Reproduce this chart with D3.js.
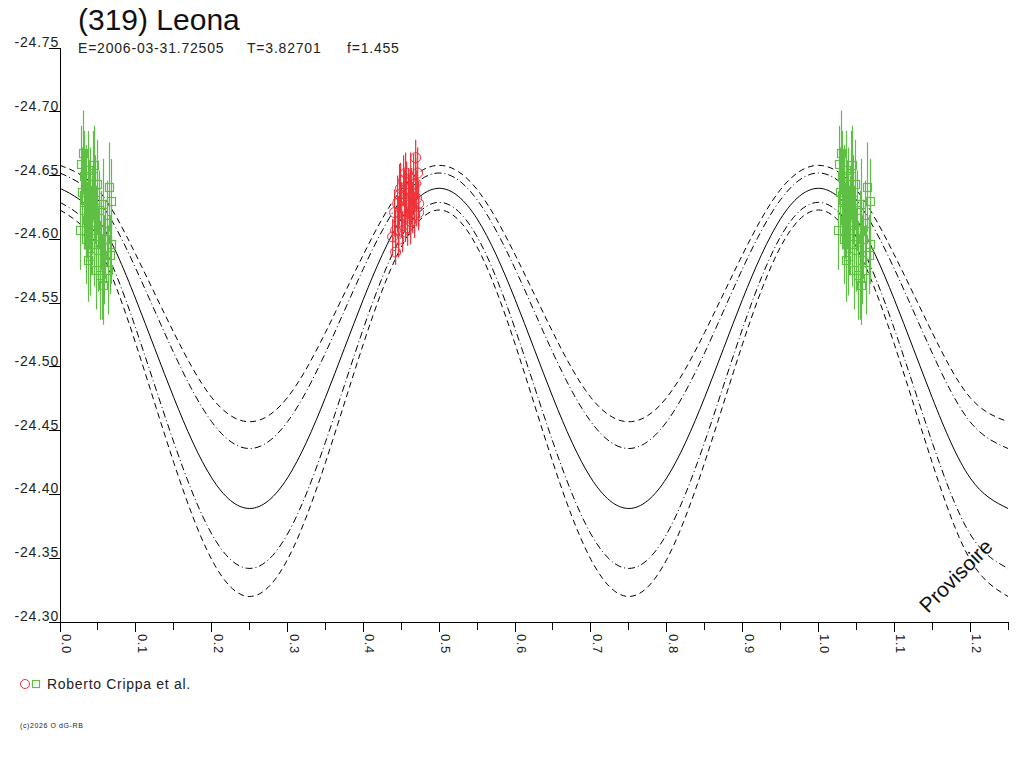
<!DOCTYPE html>
<html>
<head>
<meta charset="utf-8">
<script src="https://cdn.jsdelivr.net/npm/d3@7"></script>
<style>
  html, body { margin: 0; padding: 0; background: #fff; }
  svg { display: block; font-family: "Liberation Sans", Arial, sans-serif; }
</style>
</head>
<body>
<div id="chart"></div>
<script>
// phase grid for the model curves (read every 0.05)
const curvePhase = [0.00,0.05,0.10,0.15,0.20,0.25,0.30,0.35,0.40,0.45,0.50,0.55,0.60,0.65,0.70,0.75,0.80,0.85,0.90,0.95,1.00,1.05,1.10,1.15,1.20,1.25];
const fitMag = [-24.640,-24.616,-24.553,-24.476,-24.413,-24.389,-24.413,-24.476,-24.553,-24.616,
                -24.640,-24.616,-24.553,-24.476,-24.413,-24.389,-24.413,-24.476,-24.553,-24.616,
                -24.640,-24.616,-24.553,-24.476,-24.413,-24.389];
const upperDashMag = [-24.658,-24.639,-24.588,-24.527,-24.476,-24.457,-24.476,-24.527,-24.588,-24.639,
                      -24.658,-24.639,-24.588,-24.527,-24.476,-24.457,-24.476,-24.527,-24.588,-24.639,
                      -24.658,-24.639,-24.588,-24.527,-24.476,-24.457];
const upperDotMag = [-24.652,-24.631,-24.577,-24.511,-24.457,-24.436,-24.457,-24.511,-24.577,-24.631,
                     -24.652,-24.631,-24.577,-24.511,-24.457,-24.436,-24.457,-24.511,-24.577,-24.631,
                     -24.652,-24.631,-24.577,-24.511,-24.457,-24.436];
const lowerDotMag = [-24.629,-24.602,-24.530,-24.441,-24.369,-24.342,-24.369,-24.441,-24.530,-24.602,
                     -24.629,-24.602,-24.530,-24.441,-24.369,-24.342,-24.369,-24.441,-24.530,-24.602,
                     -24.629,-24.602,-24.530,-24.441,-24.369,-24.342];
const lowerDashMag = [-24.623,-24.594,-24.518,-24.425,-24.349,-24.320,-24.349,-24.425,-24.518,-24.594,
                      -24.623,-24.594,-24.518,-24.425,-24.349,-24.320,-24.349,-24.425,-24.518,-24.594,
                      -24.623,-24.594,-24.518,-24.425,-24.349,-24.320];

// session 1 (green squares)
const greenPhase = [0.0264,0.0277,0.0291,0.0304,0.0317,0.0317,0.0330,0.0343,0.0343,0.0357,
                    0.0370,0.0370,0.0383,0.0396,0.0396,0.0410,0.0423,0.0436,0.0449,0.0449,
                    0.0462,0.0476,0.0476,0.0489,0.0502,0.0515,0.0528,0.0542,0.0555,0.0568,
                    0.0568,0.0581,0.0594,0.0621,0.0634,0.0647,0.0661,0.0674,0.0674];
const greenMag = [-24.607,-24.659,-24.637,-24.668,-24.650,-24.623,-24.631,-24.643,-24.600,-24.615,
                  -24.654,-24.584,-24.627,-24.587,-24.639,-24.607,-24.619,-24.650,-24.658,-24.596,
                  -24.631,-24.576,-24.611,-24.643,-24.592,-24.623,-24.572,-24.607,-24.570,-24.628,
                  -24.564,-24.584,-24.600,-24.613,-24.576,-24.641,-24.588,-24.630,-24.596];
const greenErr = [0.031,0.030,0.035,0.033,0.035,0.031,0.039,0.031,0.035,0.030,
                  0.031,0.033,0.035,0.031,0.033,0.035,0.031,0.035,0.031,0.033,
                  0.035,0.031,0.031,0.035,0.033,0.031,0.035,0.031,0.033,0.035,
                  0.031,0.035,0.031,0.033,0.035,0.035,0.031,0.033,0.031];

// session 2 (red circles)
const redPhase = [0.4386,0.4412,0.4425,0.4425,0.4452,0.4465,0.4465,0.4478,0.4491,0.4505,
                  0.4518,0.4531,0.4544,0.4557,0.4557,0.4571,0.4584,0.4597,0.4610,0.4624,
                  0.4624,0.4637,0.4650,0.4663,0.4676,0.4690,0.4690,0.4703,0.4716,0.4729,0.4729];
const redMag = [-24.602,-24.621,-24.607,-24.590,-24.628,-24.614,-24.600,-24.635,-24.640,-24.623,
                -24.606,-24.646,-24.631,-24.652,-24.618,-24.639,-24.609,-24.636,-24.627,-24.614,
                -24.648,-24.634,-24.625,-24.643,-24.619,-24.664,-24.644,-24.632,-24.652,-24.628,-24.621];
const redErr = [0.014,0.018,0.016,0.010,0.022,0.020,0.014,0.024,0.020,0.022,
                0.016,0.020,0.024,0.016,0.020,0.022,0.014,0.020,0.024,0.018,
                0.020,0.022,0.020,0.024,0.018,0.014,0.020,0.022,0.020,0.018,0.014];

const yTicks = [-24.75,-24.70,-24.65,-24.60,-24.55,-24.50,-24.45,-24.40,-24.35,-24.30];
const xTicks = [0.0,0.1,0.2,0.3,0.4,0.5,0.6,0.7,0.8,0.9,1.0,1.1,1.2];

const W = 1024, H = 768;
const plotLeft = 60, plotRight = 1008, plotTop = 48, plotBottom = 622;
const greenCol = "#5fbf45", redCol = "#ef3038";

const x = d3.scaleLinear().domain([0, 1.25]).range([plotLeft, plotRight]);
const y = d3.scaleLinear().domain([-24.75, -24.30]).range([plotTop, plotBottom]);

const svg = d3.select("#chart").append("svg")
    .attr("width", W).attr("height", H)
    .attr("viewBox", `0 0 ${W} ${H}`);
svg.append("rect").attr("width", W).attr("height", H).attr("fill", "#fff");

svg.append("clipPath").attr("id", "plot")
  .append("rect").attr("x", plotLeft).attr("y", plotTop - 10)
    .attr("width", plotRight - plotLeft).attr("height", plotBottom - plotTop + 10);

// title
svg.append("text").attr("x", 78).attr("y", 30)
    .style("font-size", "30px").attr("fill", "#111").text("(319) Leona");
const sub = svg.append("g").style("font-size", "14px").style("letter-spacing", "0.8px").attr("fill", "#222");
sub.append("text").attr("x", 78).attr("y", 53).text("E=2006-03-31.72505");
sub.append("text").attr("x", 247).attr("y", 53).text("T=3.82701");
sub.append("text").attr("x", 347).attr("y", 53).text("f=1.455");

// axes
const ax = svg.append("g").attr("stroke", "#000").attr("shape-rendering", "crispEdges");
ax.append("line").attr("x1", plotLeft).attr("x2", plotLeft).attr("y1", y(-24.75)).attr("y2", plotBottom);
ax.append("line").attr("x1", plotLeft).attr("x2", plotRight).attr("y1", plotBottom).attr("y2", plotBottom);

ax.selectAll(".yt").data(yTicks).join("line")
    .attr("x1", plotLeft - 11).attr("x2", plotLeft).attr("y1", d => y(d)).attr("y2", d => y(d));
svg.selectAll(".yl").data(yTicks).join("text")
    .attr("x", plotLeft - 1).attr("y", d => y(d) - 1)
    .attr("text-anchor", "end").style("font-size", "14px").style("letter-spacing", "0.8px")
    .attr("fill", "#222")
    .text(d => d.toFixed(2));

const minor = d3.range(0, 25).map(i => i * 0.05 + 0.05);
ax.selectAll(".xm").data(minor).join("line")
    .attr("x1", d => x(d)).attr("x2", d => x(d))
    .attr("y1", plotBottom).attr("y2", d => Math.round(d * 20) % 2 === 0 ? plotBottom + 10 : plotBottom + 8);
ax.append("line").attr("x1", x(0)).attr("x2", x(0)).attr("y1", plotBottom).attr("y2", plotBottom + 10);

svg.selectAll(".xl").data(xTicks).join("text")
    .attr("transform", d => `translate(${x(d) + 2},${plotBottom + 12}) rotate(90)`)
    .style("font-size", "13px").style("letter-spacing", "0.6px").attr("fill", "#222")
    .text(d => d.toFixed(1));

// model curves
const line = d3.line().x((d, i) => x(curvePhase[i])).y(d => y(d)).curve(d3.curveNatural);
const curves = [
  { mag: upperDashMag, dash: "6,4" },
  { mag: lowerDashMag, dash: "6,4" },
  { mag: upperDotMag, dash: "7,3,1,3" },
  { mag: lowerDotMag, dash: "7,3,1,3" },
  { mag: fitMag, dash: null }
];
const cg = svg.append("g").attr("clip-path", "url(#plot)");
cg.selectAll("path").data(curves).join("path")
    .attr("d", d => line(d.mag))
    .attr("fill", "none").attr("stroke", "#000").attr("stroke-width", 1)
    .attr("stroke-dasharray", d => d.dash);

// observations, folded onto the phase range
const greenPts = [];
greenPhase.forEach((p, i) => {
  greenPts.push({ p: p, m: greenMag[i], e: greenErr[i] });
  if (p + 1 <= 1.25) greenPts.push({ p: p + 1, m: greenMag[i], e: greenErr[i] });
});
const redPts = redPhase.map((p, i) => ({ p: p, m: redMag[i], e: redErr[i] }));

const pg = svg.append("g").attr("clip-path", "url(#plot)");
pg.selectAll(".gb").data(greenPts).join("line")
    .attr("x1", d => Math.round(x(d.p)) + 0.5).attr("x2", d => Math.round(x(d.p)) + 0.5)
    .attr("y1", d => y(d.m - d.e)).attr("y2", d => y(d.m + d.e))
    .style("stroke", greenCol).style("stroke-width", 1.2);
pg.selectAll(".gs").data(greenPts).join("rect")
    .attr("x", d => Math.round(x(d.p)) - 3.5).attr("y", d => Math.round(y(d.m)) - 3.5)
    .attr("width", 8).attr("height", 8)
    .style("fill", "none").style("stroke", greenCol).style("stroke-width", 1.2);

pg.selectAll(".rb").data(redPts).join("line")
    .attr("x1", d => x(d.p)).attr("x2", d => x(d.p))
    .attr("y1", d => y(d.m - d.e)).attr("y2", d => y(d.m + d.e))
    .style("stroke", redCol).style("stroke-width", 1.2);
pg.selectAll(".rc").data(redPts).join("circle")
    .attr("cx", d => x(d.p)).attr("cy", d => y(d.m)).attr("r", 5)
    .style("fill", "none").style("stroke", redCol);

// watermark
svg.append("text")
    .attr("transform", "translate(928,614) rotate(-45)")
    .style("font-size", "21px").attr("fill", "#111").text("Provisoire");

// legend
svg.append("circle").attr("cx", 25).attr("cy", 684).attr("r", 4.5)
    .style("fill", "none").style("stroke", redCol);
svg.append("rect").attr("x", 32.5).attr("y", 680.5).attr("width", 7).attr("height", 7)
    .style("fill", "none").style("stroke", greenCol).style("stroke-width", 1.2);
svg.append("text").attr("x", 47).attr("y", 689)
    .style("font-size", "14px").style("letter-spacing", "0.7px").attr("fill", "#222")
    .text("Roberto Crippa et al.");

svg.append("text").attr("x", 20).attr("y", 728)
    .style("font-size", "7px").style("letter-spacing", "0.6px").attr("fill", "#222")
    .text("(c)2026 O dG-RB");
</script>
</body>
</html>
